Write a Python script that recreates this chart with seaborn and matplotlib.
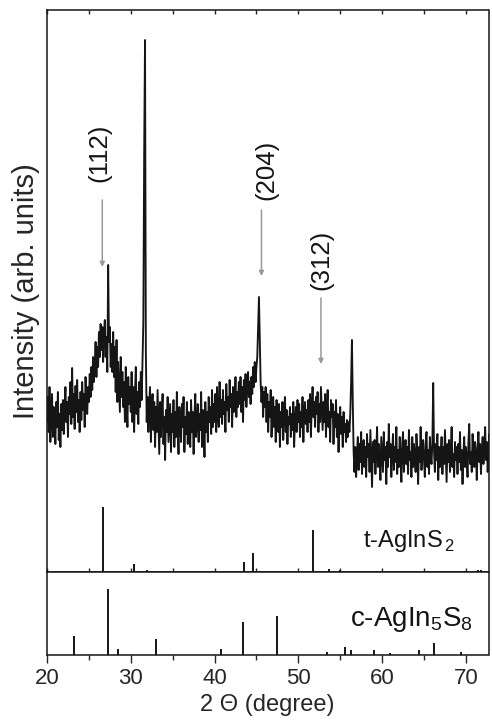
import numpy as np
import pandas as pd
import seaborn as sns
import matplotlib.pyplot as plt
from matplotlib.ticker import MultipleLocator

# ─────────────────────────────────────────
# DATA (intensity in arbitrary units)
# ─────────────────────────────────────────
TWO_THETA_START = 20.0
TWO_THETA_STEP  = 0.1

# one row per degree: 20.0 ... 20.9, 21.0 ... 21.9, etc.
intensity_rows = [
    [150, 175, 140, 185, 130, 160, 178, 135, 165, 150],  # 20
    [128, 170, 145, 180, 132, 158, 125, 168, 142, 172],  # 21
    [138, 160, 185, 150, 170, 135, 175, 158, 190, 148],  # 22
    [204, 155, 178, 143, 186, 160, 192, 150, 172, 140],  # 23
    [180, 152, 190, 162, 178, 145, 195, 168, 158, 185],  # 24
    [170, 198, 175, 205, 182, 215, 190, 208, 230, 195],  # 25
    [225, 205, 240, 215, 248, 222, 245, 210, 238, 252],  # 26
    [215, 235, 200, 307, 230, 245, 205, 228, 200, 240],  # 27
    [195, 225, 180, 232, 170, 210, 185, 160, 215, 175],  # 28
    [200, 165, 190, 150, 205, 172, 145, 195, 168, 185],  # 29
    [160, 200, 150, 185, 140, 178, 205, 158, 180, 148],  # 30
    [190, 165, 200, 172, 210, 250, 420, 532, 220, 150],  # 31
    [175, 140, 168, 185, 130, 160, 178, 142, 170, 125],  # 32
    [165, 140, 182, 150, 118, 170, 135, 160, 178, 128],  # 33
    [155, 112, 162, 140, 175, 130, 150, 168, 120, 158],  # 34
    [140, 172, 125, 160, 135, 180, 145, 118, 165, 150],  # 35
    [130, 168, 145, 175, 120, 155, 138, 170, 128, 160],  # 36
    [148, 125, 172, 140, 160, 118, 155, 178, 135, 150],  # 37
    [168, 130, 158, 142, 180, 125, 162, 148, 115, 170],  # 38
    [140, 160, 130, 175, 150, 165, 138, 182, 145, 168],  # 39
    [150, 178, 140, 185, 160, 145, 190, 155, 172, 148],  # 40
    [182, 158, 170, 140, 188, 162, 175, 150, 192, 165],  # 41
    [178, 145, 185, 160, 170, 195, 155, 180, 165, 190],  # 42
    [168, 195, 160, 185, 150, 192, 172, 198, 165, 185],  # 43
    [200, 175, 190, 168, 195, 178, 205, 185, 210, 190],  # 44
    [205, 215, 245, 275, 235, 190, 170, 185, 155, 180],  # 45
    [165, 185, 150, 178, 140, 170, 155, 182, 135, 160],  # 46
    [175, 145, 165, 130, 172, 150, 140, 168, 125, 160],  # 47
    [145, 170, 132, 158, 175, 140, 162, 128, 155, 148],  # 48
    [165, 135, 158, 142, 170, 125, 152, 165, 140, 172],  # 49
    [150, 168, 135, 160, 145, 175, 130, 158, 170, 148],  # 50
    [162, 140, 172, 150, 178, 135, 165, 185, 155, 170],  # 51
    [145, 175, 158, 180, 140, 168, 150, 185, 162, 142],  # 52
    [170, 150, 178, 135, 165, 182, 145, 160, 130, 172],  # 53
    [155, 168, 128, 160, 145, 172, 135, 158, 120, 150],  # 54
    [165, 138, 155, 125, 160, 140, 148, 130, 152, 135],  # 55
    [150, 140, 158, 190, 232, 170, 120, 100, 125, 95],   # 56
    [118, 135, 102, 128, 110, 140, 98, 122, 132, 105],   # 57
    [125, 95, 138, 115, 128, 100, 142, 112, 85, 130],    # 58
    [110, 132, 98, 120, 145, 105, 128, 115, 92, 135],    # 59
    [118, 100, 140, 112, 125, 88, 130, 105, 148, 115],   # 60
    [128, 95, 120, 138, 102, 125, 110, 145, 98, 122],    # 61
    [105, 135, 115, 90, 128, 140, 100, 118, 132, 108],   # 62
    [125, 98, 142, 112, 120, 95, 135, 105, 128, 115],    # 63
    [100, 138, 118, 88, 125, 110, 145, 102, 120, 132],   # 64
    [112, 95, 128, 140, 105, 122, 98, 135, 115, 108],    # 65
    [130, 189, 120, 100, 128, 112, 138, 92, 125, 105],   # 66
    [118, 135, 98, 125, 108, 142, 115, 90, 128, 110],    # 67
    [132, 100, 120, 145, 105, 118, 95, 130, 112, 125],   # 68
    [98, 128, 110, 140, 102, 122, 88, 118, 135, 105],    # 69
    [125, 112, 95, 130, 148, 108, 120, 100, 138, 115],   # 70
    [105, 130, 118, 92, 125, 140, 110, 128, 98, 120],    # 71
    [135, 108, 125, 145, 112, 130, 100, 122, 138, 115],  # 72
]

# reference stick patterns
t_agins2_pos = [26.68, 30.34, 31.9, 43.47, 44.62, 51.8, 53.7, 54.96, 63.1, 69.9, 71.5, 71.8]
t_agins2_int = [65, 7.7, 2, 10.3, 18.7, 41.7, 3, 2.5, 1, 1.5, 2.5, 2.5]

c_agin5s8_pos = [23.18, 27.32, 28.47, 33.05, 40.77, 43.39, 47.45, 53.45, 55.56,
                 56.28, 58.98, 61.0, 64.35, 66.2, 69.36]
c_agin5s8_int = [19.3, 66, 6, 16, 6, 32.7, 39.3, 3, 7.7, 5, 5, 2, 5, 11.7, 3]

# peak labels: (text, arrow x, arrow tail y, arrow tip y, text x, text bottom y)
peak_labels = ["(112)", "(204)", "(312)"]
peak_arrow_x = [26.6, 45.6, 52.7]
peak_arrow_tail = [372, 362, 274]
peak_arrow_tip = [305, 296, 208]
peak_text_x = [26.3, 46.2, 52.7]
peak_text_y = [390, 372, 282]

# ─────────────────────────────────────────
# STYLE
# ─────────────────────────────────────────
sns.set_style("ticks")
plt.rcParams["font.family"] = ["Liberation Sans", "DejaVu Sans"]
plt.rcParams["mathtext.fontset"] = "custom"
plt.rcParams["mathtext.rm"] = "Liberation Sans"
plt.rcParams["axes.linewidth"] = 1.1

intensity = np.concatenate([np.array(r, dtype=float) for r in intensity_rows])
two_theta = TWO_THETA_START + TWO_THETA_STEP * np.arange(len(intensity))
df = pd.DataFrame({"two_theta": two_theta, "intensity": intensity})

XMIN, XMAX = 20, 72.7
INK = "#151515"

fig = plt.figure(figsize=(4.92, 7.26), dpi=100)
ax_top = fig.add_axes([47 / 492, 1 - 572 / 726, 441.5 / 492, 562 / 726])
ax_bot = fig.add_axes([47 / 492, 1 - 655 / 726, 441.5 / 492, 83 / 726])

# ─────────────────────────────────────────
# TOP PANEL: measured pattern + t-AgInS2
# ─────────────────────────────────────────
sns.lineplot(data=df, x="two_theta", y="intensity", ax=ax_top,
             color=INK, linewidth=1.35)
ax_top.vlines(t_agins2_pos, 0, t_agins2_int, color=INK, linewidth=1.4)

for lab, ax_x, tail, tip, tx, ty in zip(peak_labels, peak_arrow_x, peak_arrow_tail,
                                         peak_arrow_tip, peak_text_x, peak_text_y):
    ax_top.annotate("", xy=(ax_x, tip), xytext=(ax_x, tail),
                    arrowprops=dict(arrowstyle="-|>", color="0.6", lw=1.1,
                                    mutation_scale=7, shrinkA=0, shrinkB=0))
    ax_top.text(tx, ty, lab, rotation=90, ha="center", va="bottom",
                fontsize=18.5, color=INK)

ax_top.text(57.67, 25, r"t-AgInS$_{\,2}$", fontsize=17, color=INK,
            ha="left", va="baseline")

ax_top.set_xlim(XMIN, XMAX)
ax_top.set_ylim(0, 562)
ax_top.set_yticks([])
ax_top.set_xlabel("")
ax_top.set_ylabel("Intensity (arb. units)", fontsize=21, labelpad=5)
ax_top.xaxis.set_major_locator(MultipleLocator(10))
ax_top.xaxis.set_minor_locator(MultipleLocator(5))
ax_top.tick_params(axis="x", which="both", direction="in", top=True, bottom=True,
                   labelbottom=False, length=3, width=1)

# ─────────────────────────────────────────
# BOTTOM PANEL: c-AgIn5S8
# ─────────────────────────────────────────
ax_bot.vlines(c_agin5s8_pos, 0, c_agin5s8_int, color=INK, linewidth=1.4)
ax_bot.text(56.2, 29, r"c-AgIn$_5$S$_8$", fontsize=20, color=INK,
            ha="left", va="baseline")
ax_bot.set_xlim(XMIN, XMAX)
ax_bot.set_ylim(0, 83)
ax_bot.set_yticks([])
ax_bot.xaxis.set_major_locator(MultipleLocator(10))
ax_bot.xaxis.set_minor_locator(MultipleLocator(5))
ax_bot.tick_params(axis="x", which="major", direction="out", length=6, width=1,
                   labelsize=16, pad=3)
ax_bot.tick_params(axis="x", which="minor", direction="out", length=3.5, width=1)
ax_bot.set_xlabel("2 Θ (degree)", fontsize=17, labelpad=4)

for ax in (ax_top, ax_bot):
    for sp in ax.spines.values():
        sp.set_visible(True)
        sp.set_color(INK)

plt.savefig("out.png", dpi=100)
